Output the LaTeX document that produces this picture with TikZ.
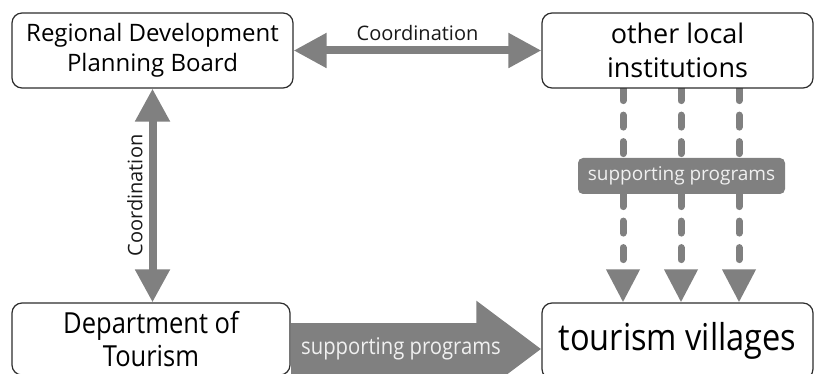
\documentclass[tikz,border=0pt]{standalone}
\usepackage{fontspec}
\setmainfont{Open Sans}
\newfontfamily\narrowfont[FakeStretch=0.88]{Open Sans}
\usepackage{tikz}
\usetikzlibrary{arrows.meta, backgrounds, positioning, calc}
\definecolor{arrowgray}{RGB}{128, 128, 128}
\definecolor{boxline}{RGB}{45, 45, 45}

\begin{document}
\begin{tikzpicture}[
    x=1pt, y=-1pt,
    orgnode/.style={draw=boxline, line width=1.2pt, rounded corners=10pt,
                    fill=white, inner sep=2pt, align=center},
    arr/.style={{Triangle[length=33pt, width=33pt]}-{Triangle[length=33pt, width=33pt]},
                line width=8pt, color=arrowgray},
    dasharr/.style={-{Triangle[length=33pt, width=32pt]}, line width=7pt,
                    color=arrowgray, line cap=round,
                    dash pattern=on 12pt off 14.5pt},
    bigarr/.style={-{Triangle[length=65pt, width=92pt]}, line width=52pt,
                   color=arrowgray},
    cond/.style={font=\fontsize{20}{24}\selectfont, text=black!90, inner sep=0pt},
    proglabel/.style={fill=arrowgray, rounded corners=5pt, text=white!94!black,
                      minimum width=207pt, minimum height=36pt, inner sep=0pt,
                      font=\fontsize{19}{23}\selectfont},
]
    \useasboundingbox (0,0) rectangle (814,374);

    \node[orgnode, minimum width=281pt, minimum height=75pt,
          font=\fontsize{24}{30}\selectfont] (rdpb) at (152.5,50.5)
          {Regional Development\\Planning Board};
    \node[orgnode, minimum width=271pt, minimum height=75pt,
          font=\fontsize{27}{34}\selectfont] (oli) at (677.5,50.5)
          {other local\\institutions};
    \node[orgnode, minimum width=278pt, minimum height=72pt,
          font=\narrowfont\fontsize{29}{33}\selectfont] (dot) at (151,339)
          {Department of\\Tourism};
    \node[orgnode, minimum width=271pt, minimum height=76pt,
          font=\narrowfont\fontsize{37}{44}\selectfont] (tv) at (677.5,341)
          {tourism villages};

    \begin{scope}[on background layer]
        \draw[arr] (rdpb.east) -- node[cond, above=6pt]{Coordination} (oli.west);
        \draw[arr] (rdpb.south) -- (rdpb.south |- dot.north);
        \foreach \dx in {-54.5, 3.5, 61.5}
            \draw[dasharr] ([xshift=\dx pt]oli.south) -- ([xshift=\dx pt]tv.north);
        \draw[bigarr] ([yshift=-10pt]dot.east) -- ([yshift=-10pt]dot.east -| tv.west);
    \end{scope}

    \node[cond, xshift=-17pt, rotate=90] (vlabel) at ($(rdpb.south)!0.5!(dot.north)$) {Coordination};
    \node[proglabel] (oliprog) at (681.5,176) {supporting programs};
    \node[font=\narrowfont\fontsize{23}{28}\selectfont, text=white!94!black,
          inner sep=0pt] (dotprog) at (401,349) {supporting programs};
\end{tikzpicture}
\end{document}
